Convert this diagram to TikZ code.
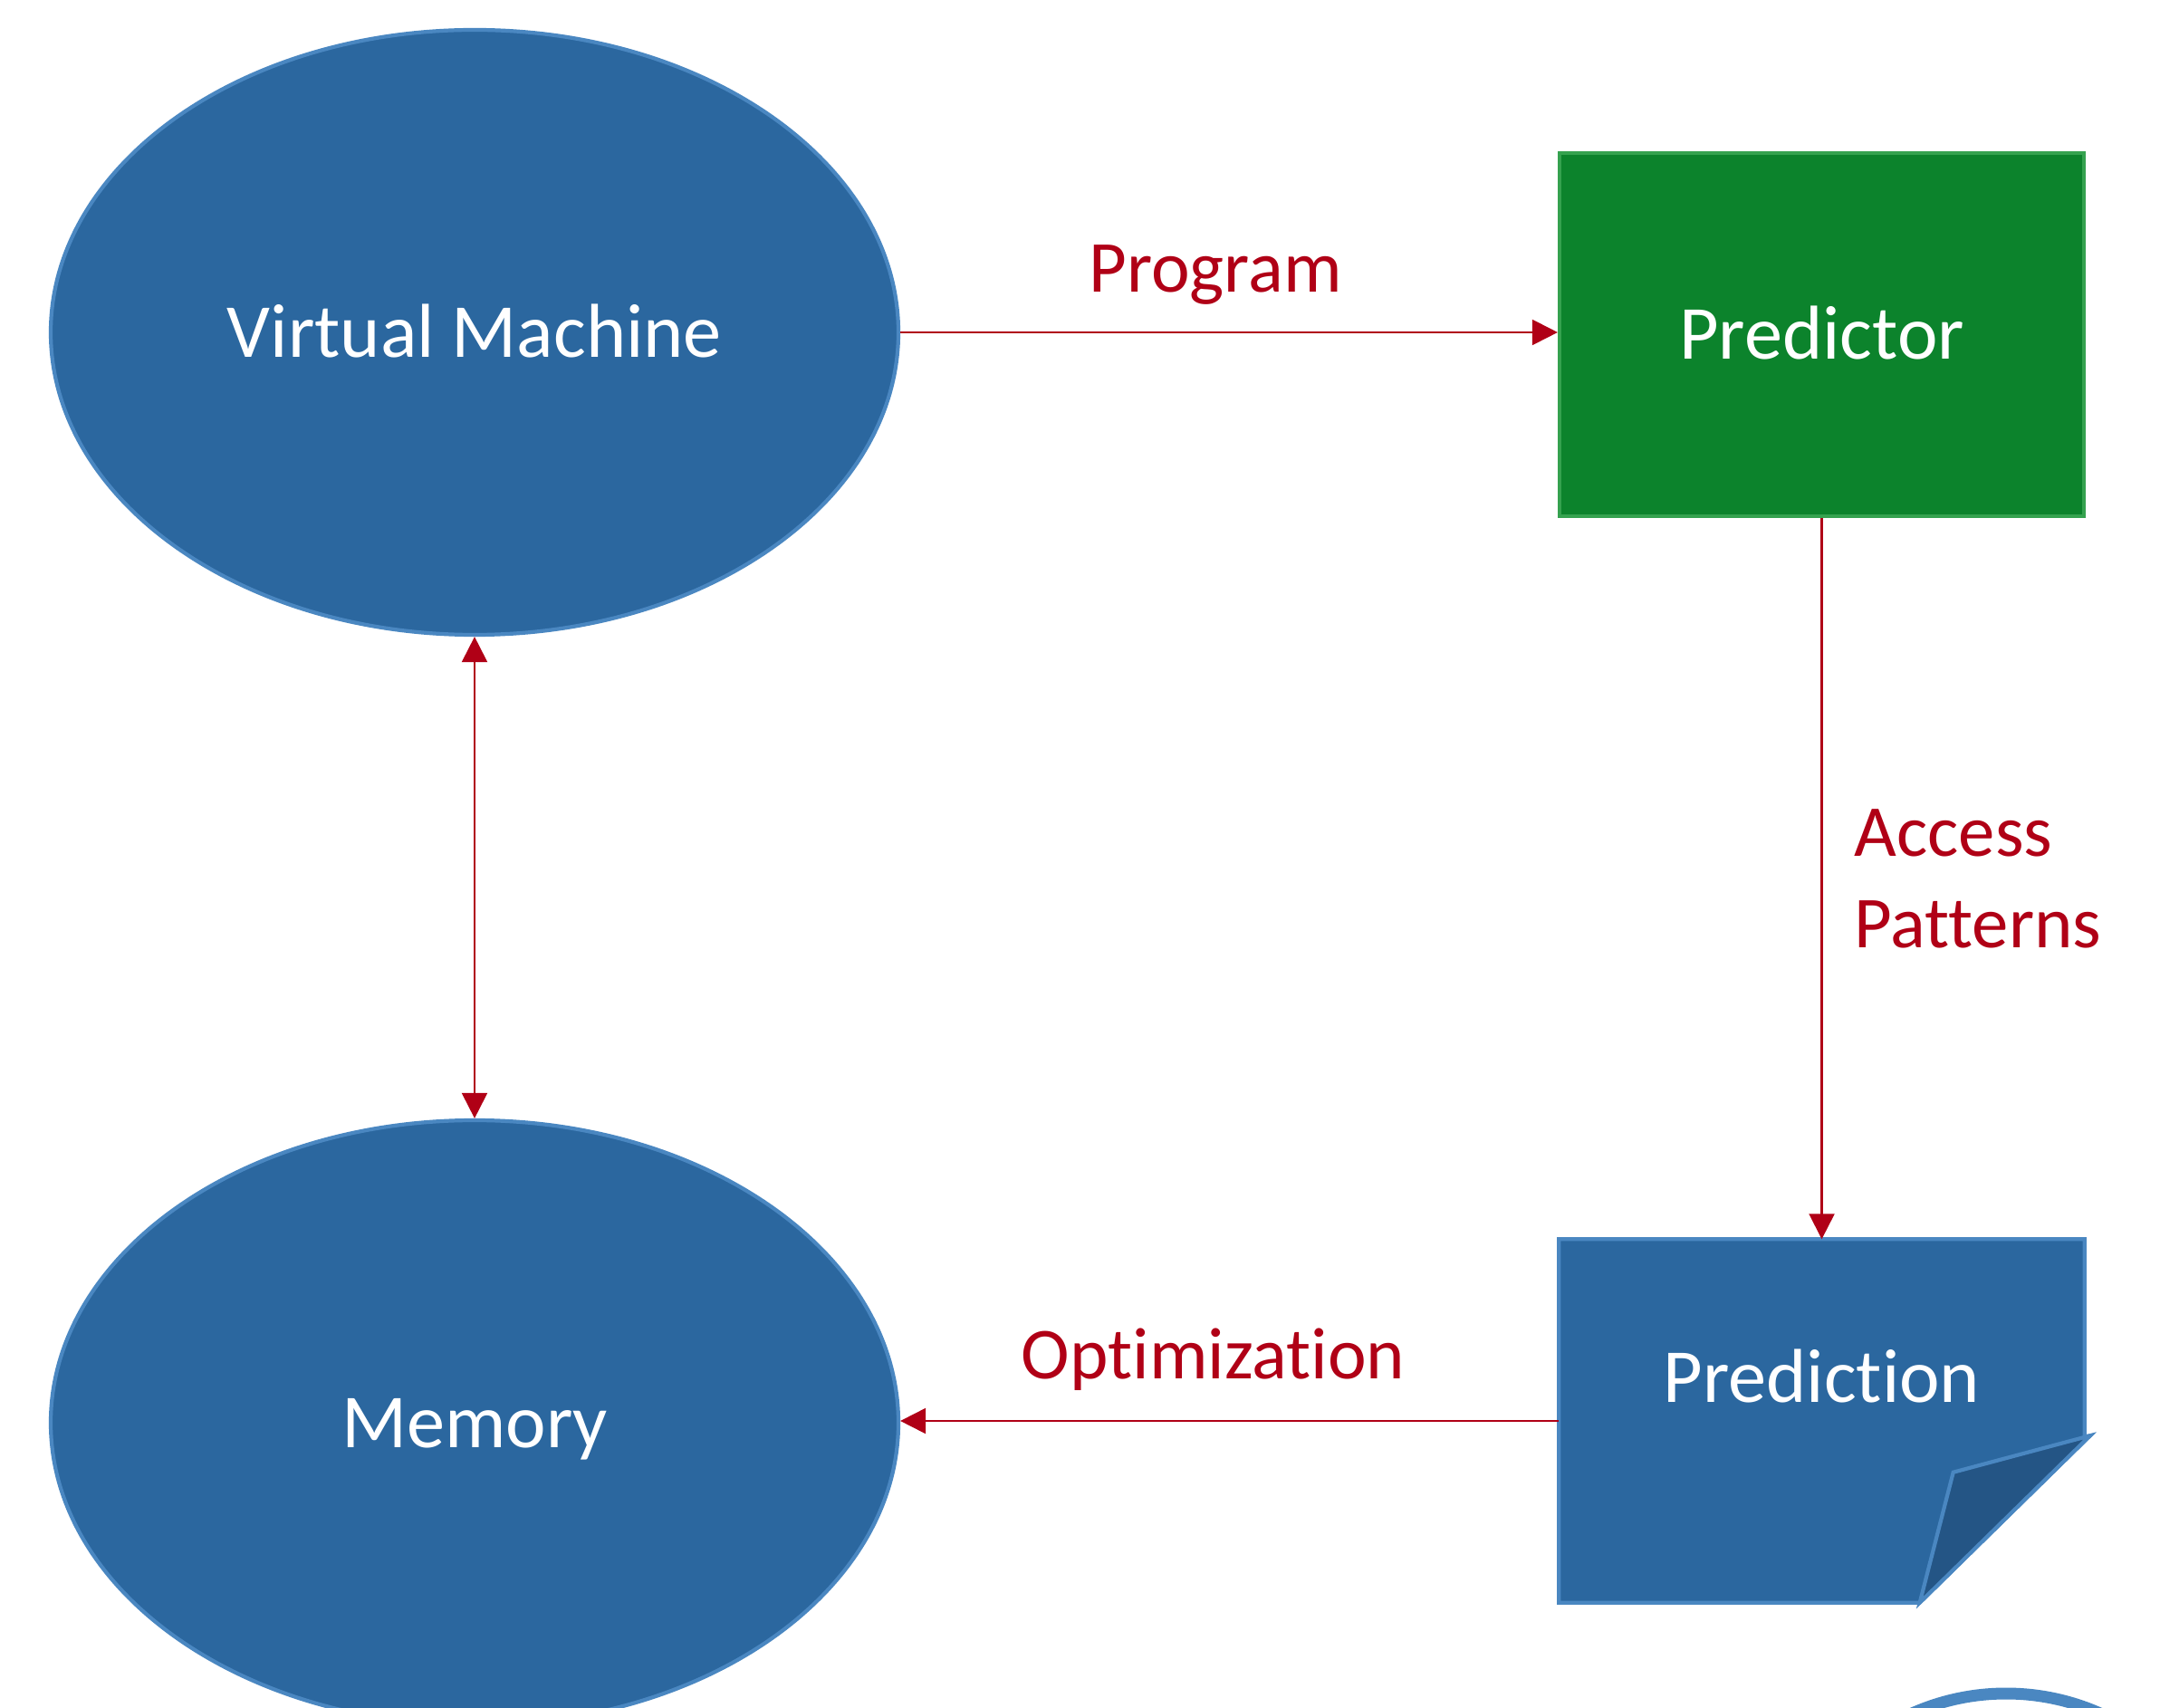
\documentclass[tikz,border=0pt]{standalone}
\usepackage{fontspec}
\setmainfont{Carlito}[Ligatures={NoCommon}]
\usetikzlibrary{positioning,shapes.geometric,arrows.meta}
\definecolor{vmblue}{HTML}{2B679F}
\definecolor{vmedge}{HTML}{4A87C1}
\definecolor{foldblue}{HTML}{245585}
\definecolor{predgreen}{HTML}{0C832C}
\definecolor{prededge}{HTML}{35A24F}
\definecolor{flowred}{HTML}{B00016}

\begin{document}
\begin{tikzpicture}[>={Triangle[length=0.28cm,width=0.28cm]},
    blob/.style={ellipse,draw=vmedge,fill=vmblue,line width=1.2pt,
      minimum width=9.36cm,minimum height=6.68cm,inner sep=0pt,text=white,
      font=\fontsize{24}{29}\selectfont,text height=15.4pt,text depth=0pt},
    block/.style={rectangle,draw=prededge,fill=predgreen,line width=1.2pt,
      minimum width=5.79cm,minimum height=4.01cm,inner sep=0pt,text=white,
      font=\fontsize{24}{29}\selectfont,text height=15.4pt,text depth=0pt},
    doctext/.style={text=white,font=\fontsize{24}{29}\selectfont,
      text height=15.4pt,text depth=0pt,inner sep=0pt},
    flow/.style={draw=flowred,line width=0.6pt,fill=none},
    lbl/.style={text=flowred,inner sep=0pt,font=\fontsize{23}{28.7}\selectfont}]
    \clip (0,0) rectangle (23.85,-18.86);
    \node[blob] (vm) at (5.24,-3.67) {Virtual Machine};
    \node[blob] (mem) at (5.24,-15.71) {Memory};
    \node[block] (predictor) at (20.115,-3.695) {Predictor};
    \node[minimum width=5.79cm,minimum height=4.00cm,inner sep=0pt] (doc) at (20.115,-15.69) {};
    \draw[draw=vmedge,fill=vmblue,line width=1.2pt,line join=miter]
      (doc.north west) -- (doc.north east) -- ([yshift=-2.18cm]doc.north east)
      -- ([shift={(0.06,-2.17)}]doc.north east) -- ([xshift=-1.82cm]doc.south east)
      -- (doc.south west) -- cycle;
    \draw[draw=vmedge,fill=foldblue,line width=1.2pt]
      ([shift={(0.06,-2.17)}]doc.north east) -- ([shift={(-1.45,1.44)}]doc.south east)
      -- ([xshift=-1.82cm]doc.south east) -- cycle;
    \node[doctext] (doclabel) at ([yshift=0.48cm]doc.center) {Prediction};
    \draw[vmedge,line width=0.13cm] (22.15,-21.25) circle[radius=2.55cm];

    \draw[flow,->] (vm.east) -- (vm.east -| predictor.west)
      node[lbl,midway,anchor=base,yshift=0.44cm,xshift=-0.15cm] {Program};
    \draw[flow,->] (predictor.south) -- (doc.north)
      node[lbl,midway,anchor=west,xshift=0.35cm,align=left] {Access\\Patterns};
    \draw[flow,->] (doc.west) -- (doc.west -| mem.east)
      node[lbl,midway,anchor=base,yshift=0.47cm,xshift=-0.18cm] {Optimization};
    \draw[flow,<->] (vm.south) -- (mem.north);
\end{tikzpicture}
\end{document}
